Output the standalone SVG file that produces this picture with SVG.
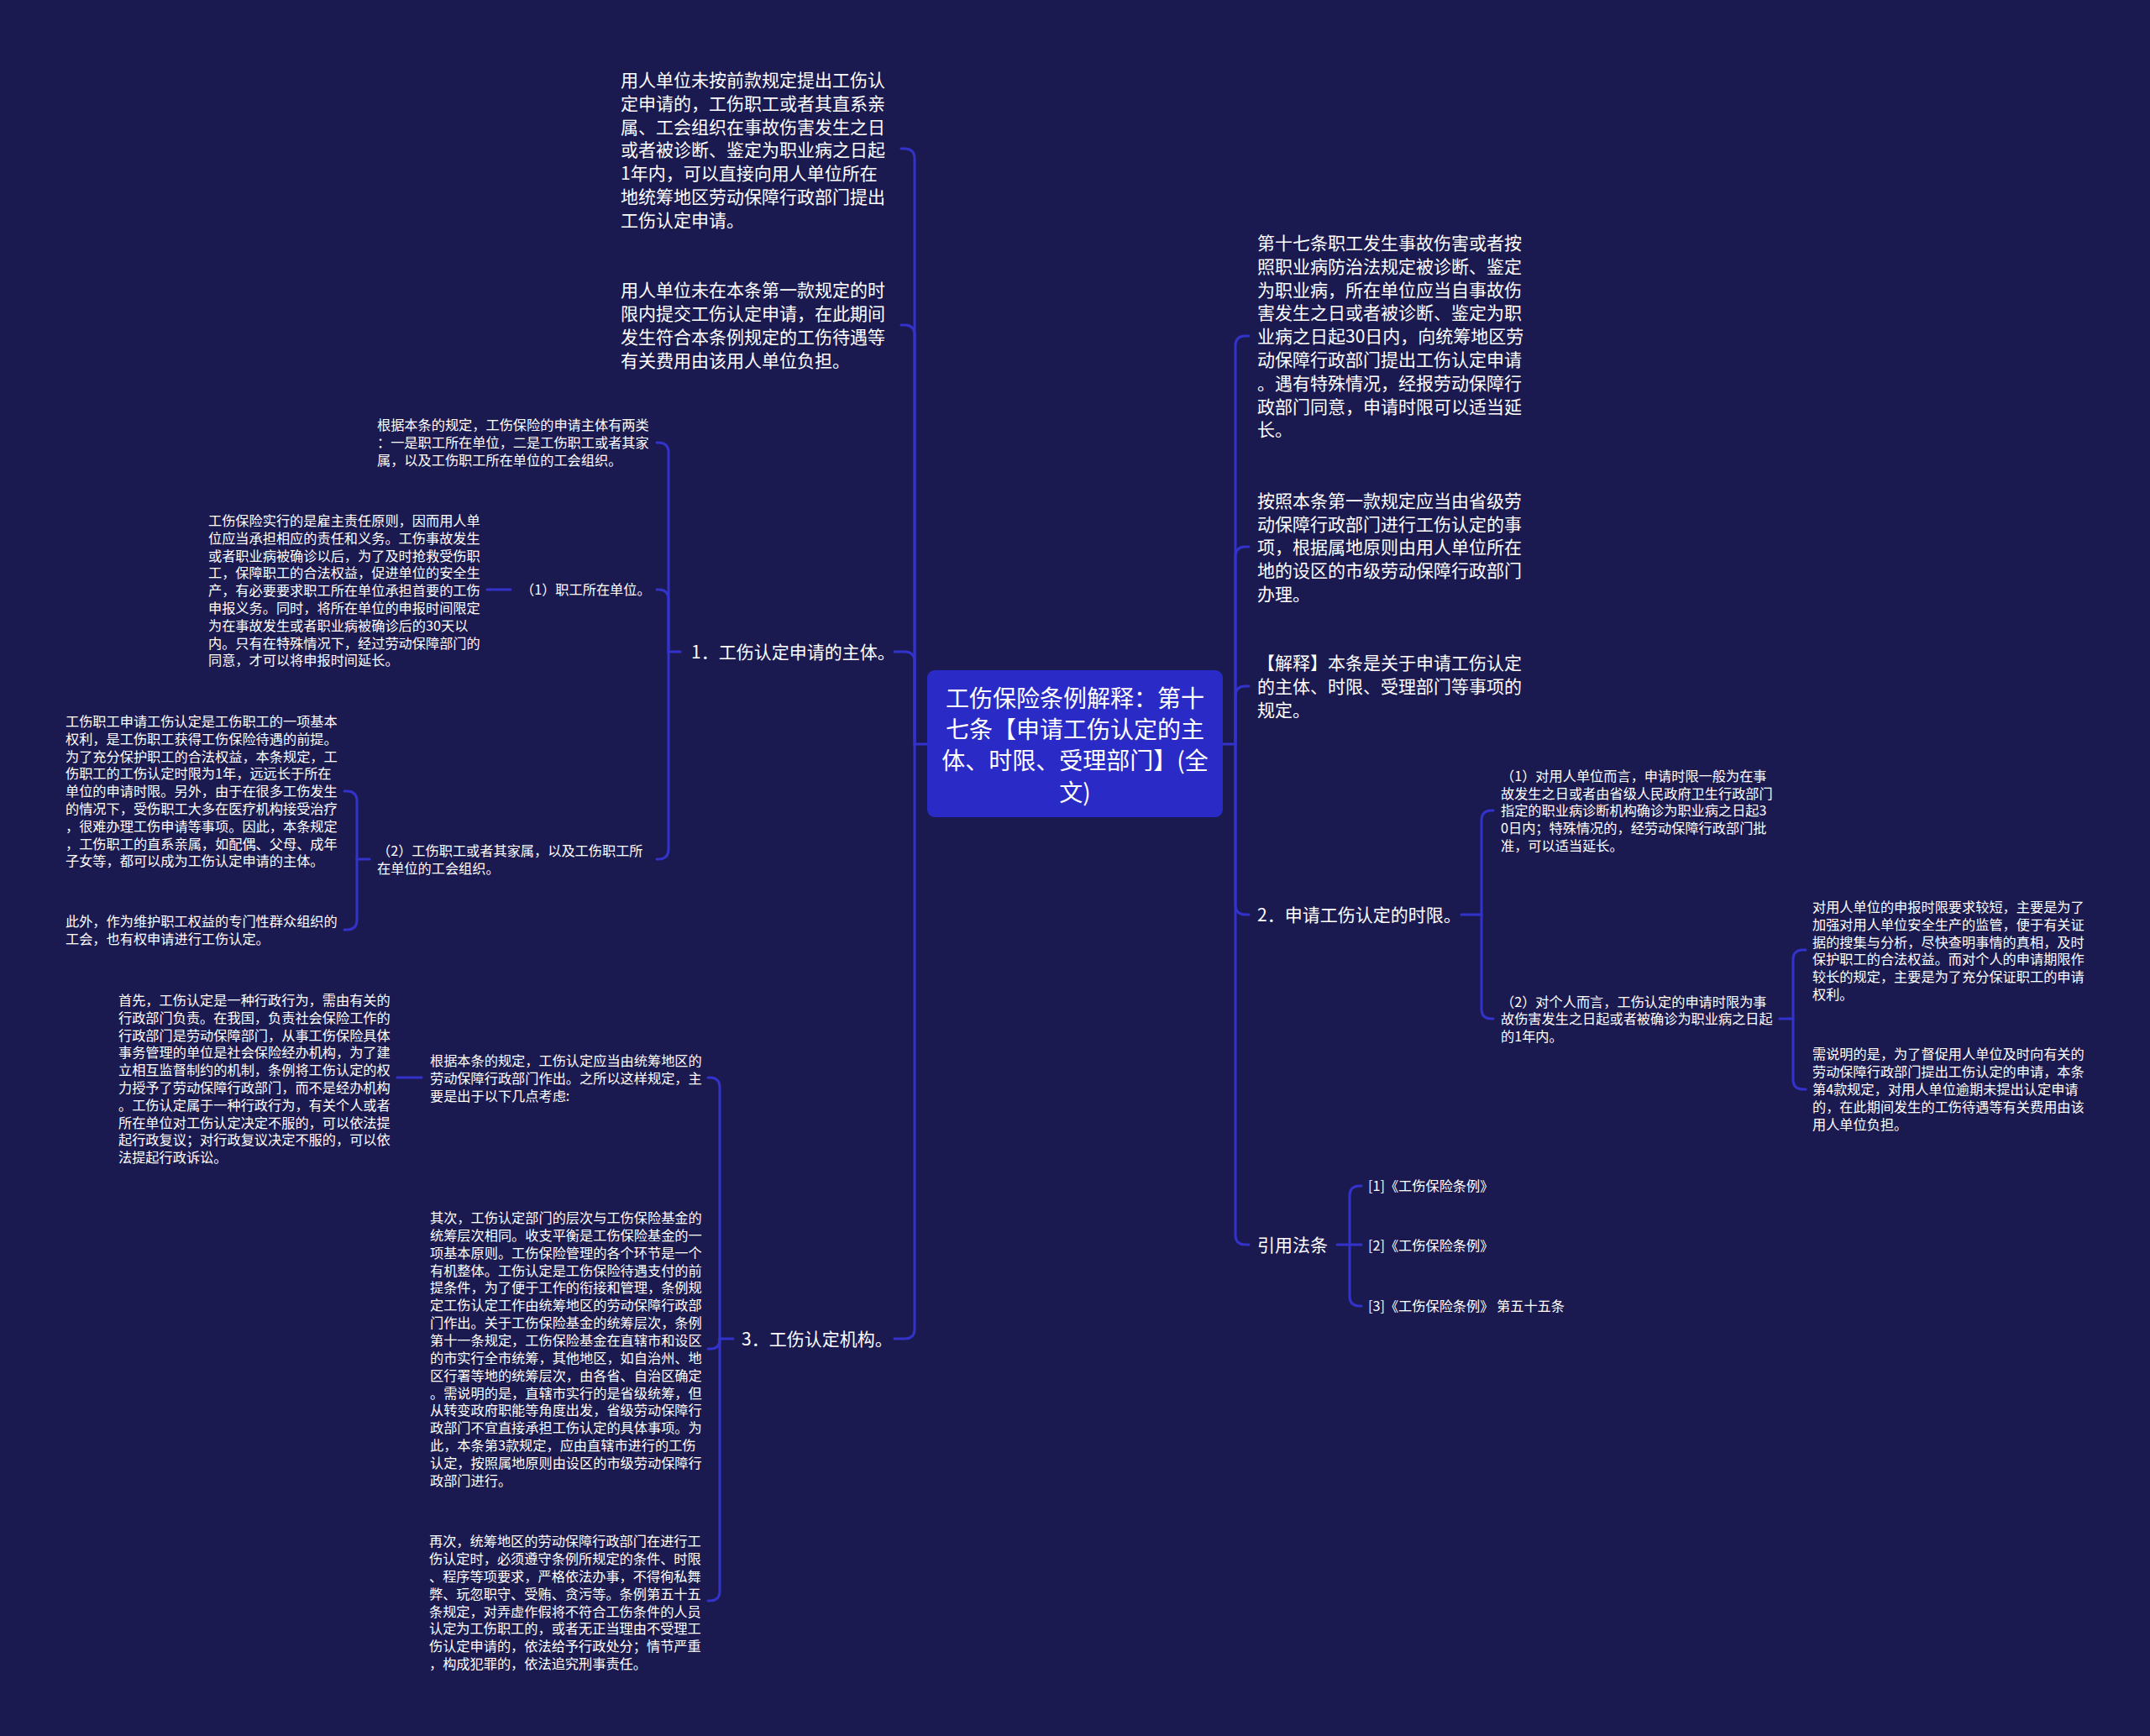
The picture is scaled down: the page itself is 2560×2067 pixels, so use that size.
<svg xmlns="http://www.w3.org/2000/svg" width="2560" height="2067" viewBox="0 0 2560 2067">
<style>
text{font-family:"Noto Sans CJK SC","Noto Sans",sans-serif;fill:#ffffff}
.t1{font-size:21px}
.t2{font-size:16.2px}
.tc{font-size:28px;text-anchor:middle}
.ln{fill:none;stroke:#3333cc;stroke-width:3;stroke-linecap:round;stroke-linejoin:round}
</style>
<rect x="0" y="0" width="2560" height="2067" fill="#1b1a50"/>

<g id="connectors">
<path class="ln" d="M1104 886H1089"/>
<path class="ln" d="M1089 886V189Q1089 177 1077 177H1073"/>
<path class="ln" d="M1089 886V399Q1089 387 1077 387H1073"/>
<path class="ln" d="M1089 886V788Q1089 776 1077 776H1065"/>
<path class="ln" d="M1089 886V1582Q1089 1594 1077 1594H1065"/>
<path class="ln" d="M810 776H796"/>
<path class="ln" d="M796 776V539Q796 527 784 527H782"/>
<path class="ln" d="M796 776V714Q796 702 784 702H782"/>
<path class="ln" d="M796 776V1011Q796 1023 784 1023H782"/>
<path class="ln" d="M608 702H580"/>
<path class="ln" d="M440 1023H425"/>
<path class="ln" d="M425 1023V954Q425 942 413 942H410"/>
<path class="ln" d="M425 1023V1095Q425 1107 413 1107H410"/>
<path class="ln" d="M873 1594H857"/>
<path class="ln" d="M857 1594V1295Q857 1283 845 1283H843"/>
<path class="ln" d="M857 1594V1595Q857 1606 846 1606H843"/>
<path class="ln" d="M857 1594V1894Q857 1906 845 1906H843"/>
<path class="ln" d="M502 1283H473"/>
<path class="ln" d="M1456 886H1471"/>
<path class="ln" d="M1471 886V412Q1471 400 1483 400H1487"/>
<path class="ln" d="M1471 886V663Q1471 651 1483 651H1487"/>
<path class="ln" d="M1471 886V829Q1471 817 1483 817H1487"/>
<path class="ln" d="M1471 886V1077Q1471 1089 1483 1089H1487"/>
<path class="ln" d="M1471 886V1470Q1471 1482 1483 1482H1487"/>
<path class="ln" d="M1740 1089H1764"/>
<path class="ln" d="M1764 1089V977Q1764 965 1776 965H1778"/>
<path class="ln" d="M1764 1089V1201Q1764 1213 1776 1213H1778"/>
<path class="ln" d="M2119 1213H2135"/>
<path class="ln" d="M2135 1213V1143Q2135 1131 2147 1131H2150"/>
<path class="ln" d="M2135 1213V1285Q2135 1297 2147 1297H2150"/>
<path class="ln" d="M1592 1482H1607"/>
<path class="ln" d="M1607 1482V1424Q1607 1412 1619 1412H1621"/>
<path class="ln" d="M1607 1482H1621"/>
<path class="ln" d="M1607 1482V1543Q1607 1555 1619 1555H1621"/>
</g>

<g id="center">
<rect x="1104" y="798" width="352" height="175" rx="9" fill="#2a2bc6"/>
<text class="tc"><tspan x="1280" y="842">工伤保险条例解释：第十</tspan><tspan x="1280" y="879">七条【申请工伤认定的主</tspan><tspan x="1280" y="916">体、时限、受理部门】(全</tspan><tspan x="1280" y="954">文)</tspan></text>
</g>

<g id="l1">
<text class="t1"><tspan x="739" y="103">用人单位未按前款规定提出工伤认</tspan><tspan x="739" y="131">定申请的，工伤职工或者其直系亲</tspan><tspan x="739" y="159">属、工会组织在事故伤害发生之日</tspan><tspan x="739" y="186">或者被诊断、鉴定为职业病之日起</tspan><tspan x="739" y="214">1年内，可以直接向用人单位所在</tspan><tspan x="739" y="242">地统筹地区劳动保障行政部门提出</tspan><tspan x="739" y="270">工伤认定申请。</tspan></text>
</g>

<g id="l2">
<text class="t1"><tspan x="739" y="353">用人单位未在本条第一款规定的时</tspan><tspan x="739" y="381">限内提交工伤认定申请，在此期间</tspan><tspan x="739" y="409">发生符合本条例规定的工伤待遇等</tspan><tspan x="739" y="437">有关费用由该用人单位负担。</tspan></text>
</g>

<g id="l3">
<text class="t1" x="823" y="784">1．工伤认定申请的主体。</text>
</g>

<g id="l3a">
<text class="t2"><tspan x="449" y="512">根据本条的规定，工伤保险的申请主体有两类</tspan><tspan x="449" y="533">：一是职工所在单位，二是工伤职工或者其家</tspan><tspan x="449" y="554">属，以及工伤职工所在单位的工会组织。</tspan></text>
</g>

<g id="l3b">
<text class="t2" x="620" y="708">（1）职工所在单位。</text>
</g>

<g id="l3b1">
<text class="t2"><tspan x="248" y="626">工伤保险实行的是雇主责任原则，因而用人单</tspan><tspan x="248" y="647">位应当承担相应的责任和义务。工伤事故发生</tspan><tspan x="248" y="668">或者职业病被确诊以后，为了及时抢救受伤职</tspan><tspan x="248" y="688">工，保障职工的合法权益，促进单位的安全生</tspan><tspan x="248" y="709">产，有必要要求职工所在单位承担首要的工伤</tspan><tspan x="248" y="730">申报义务。同时，将所在单位的申报时间限定</tspan><tspan x="248" y="751">为在事故发生或者职业病被确诊后的30天以</tspan><tspan x="248" y="772">内。只有在特殊情况下，经过劳动保障部门的</tspan><tspan x="248" y="792">同意，才可以将申报时间延长。</tspan></text>
</g>

<g id="l3c">
<text class="t2"><tspan x="449" y="1019">（2）工伤职工或者其家属，以及工伤职工所</tspan><tspan x="449" y="1040">在单位的工会组织。</tspan></text>
</g>

<g id="l3c1">
<text class="t2"><tspan x="78" y="865">工伤职工申请工伤认定是工伤职工的一项基本</tspan><tspan x="78" y="886">权利，是工伤职工获得工伤保险待遇的前提。</tspan><tspan x="78" y="907">为了充分保护职工的合法权益，本条规定，工</tspan><tspan x="78" y="927">伤职工的工伤认定时限为1年，远远长于所在</tspan><tspan x="78" y="948">单位的申请时限。另外，由于在很多工伤发生</tspan><tspan x="78" y="969">的情况下，受伤职工大多在医疗机构接受治疗</tspan><tspan x="78" y="990">，很难办理工伤申请等事项。因此，本条规定</tspan><tspan x="78" y="1011">，工伤职工的直系亲属，如配偶、父母、成年</tspan><tspan x="78" y="1031">子女等，都可以成为工伤认定申请的主体。</tspan></text>
</g>

<g id="l3c2">
<text class="t2"><tspan x="78" y="1103">此外，作为维护职工权益的专门性群众组织的</tspan><tspan x="78" y="1124">工会，也有权申请进行工伤认定。</tspan></text>
</g>

<g id="l4">
<text class="t1" x="883" y="1602">3．工伤认定机构。</text>
</g>

<g id="l4a">
<text class="t2"><tspan x="512" y="1269">根据本条的规定，工伤认定应当由统筹地区的</tspan><tspan x="512" y="1290">劳动保障行政部门作出。之所以这样规定，主</tspan><tspan x="512" y="1311">要是出于以下几点考虑:</tspan></text>
</g>

<g id="l4a1">
<text class="t2"><tspan x="141" y="1197">首先，工伤认定是一种行政行为，需由有关的</tspan><tspan x="141" y="1218">行政部门负责。在我国，负责社会保险工作的</tspan><tspan x="141" y="1239">行政部门是劳动保障部门，从事工伤保险具体</tspan><tspan x="141" y="1259">事务管理的单位是社会保险经办机构，为了建</tspan><tspan x="141" y="1280">立相互监督制约的机制，条例将工伤认定的权</tspan><tspan x="141" y="1301">力授予了劳动保障行政部门，而不是经办机构</tspan><tspan x="141" y="1322">。工伤认定属于一种行政行为，有关个人或者</tspan><tspan x="141" y="1343">所在单位对工伤认定决定不服的，可以依法提</tspan><tspan x="141" y="1363">起行政复议；对行政复议决定不服的，可以依</tspan><tspan x="141" y="1384">法提起行政诉讼。</tspan></text>
</g>

<g id="l4b">
<text class="t2"><tspan x="512" y="1456">其次，工伤认定部门的层次与工伤保险基金的</tspan><tspan x="512" y="1477">统筹层次相同。收支平衡是工伤保险基金的一</tspan><tspan x="512" y="1498">项基本原则。工伤保险管理的各个环节是一个</tspan><tspan x="512" y="1519">有机整体。工伤认定是工伤保险待遇支付的前</tspan><tspan x="512" y="1539">提条件，为了便于工作的衔接和管理，条例规</tspan><tspan x="512" y="1560">定工伤认定工作由统筹地区的劳动保障行政部</tspan><tspan x="512" y="1581">门作出。关于工伤保险基金的统筹层次，条例</tspan><tspan x="512" y="1602">第十一条规定，工伤保险基金在直辖市和设区</tspan><tspan x="512" y="1623">的市实行全市统筹，其他地区，如自治州、地</tspan><tspan x="512" y="1644">区行署等地的统筹层次，由各省、自治区确定</tspan><tspan x="512" y="1665">。需说明的是，直辖市实行的是省级统筹，但</tspan><tspan x="512" y="1685">从转变政府职能等角度出发，省级劳动保障行</tspan><tspan x="512" y="1706">政部门不宜直接承担工伤认定的具体事项。为</tspan><tspan x="512" y="1727">此，本条第3款规定，应由直辖市进行的工伤</tspan><tspan x="512" y="1748">认定，按照属地原则由设区的市级劳动保障行</tspan><tspan x="512" y="1769">政部门进行。</tspan></text>
</g>

<g id="l4c">
<text class="t2"><tspan x="511" y="1841">再次，统筹地区的劳动保障行政部门在进行工</tspan><tspan x="511" y="1862">伤认定时，必须遵守条例所规定的条件、时限</tspan><tspan x="511" y="1883">、程序等项要求，严格依法办事，不得徇私舞</tspan><tspan x="511" y="1904">弊、玩忽职守、受贿、贪污等。条例第五十五</tspan><tspan x="511" y="1925">条规定，对弄虚作假将不符合工伤条件的人员</tspan><tspan x="511" y="1945">认定为工伤职工的，或者无正当理由不受理工</tspan><tspan x="511" y="1966">伤认定申请的，依法给予行政处分；情节严重</tspan><tspan x="511" y="1987">，构成犯罪的，依法追究刑事责任。</tspan></text>
</g>

<g id="r1">
<text class="t1"><tspan x="1497" y="297">第十七条职工发生事故伤害或者按</tspan><tspan x="1497" y="325">照职业病防治法规定被诊断、鉴定</tspan><tspan x="1497" y="353">为职业病，所在单位应当自事故伤</tspan><tspan x="1497" y="380">害发生之日或者被诊断、鉴定为职</tspan><tspan x="1497" y="408">业病之日起30日内，向统筹地区劳</tspan><tspan x="1497" y="436">动保障行政部门提出工伤认定申请</tspan><tspan x="1497" y="464">。遇有特殊情况，经报劳动保障行</tspan><tspan x="1497" y="492">政部门同意，申请时限可以适当延</tspan><tspan x="1497" y="519">长。</tspan></text>
</g>

<g id="r2">
<text class="t1"><tspan x="1497" y="604">按照本条第一款规定应当由省级劳</tspan><tspan x="1497" y="632">动保障行政部门进行工伤认定的事</tspan><tspan x="1497" y="659">项，根据属地原则由用人单位所在</tspan><tspan x="1497" y="687">地的设区的市级劳动保障行政部门</tspan><tspan x="1497" y="715">办理。</tspan></text>
</g>

<g id="r3">
<text class="t1"><tspan x="1497" y="797">【解释】本条是关于申请工伤认定</tspan><tspan x="1497" y="825">的主体、时限、受理部门等事项的</tspan><tspan x="1497" y="853">规定。</tspan></text>
</g>

<g id="r4">
<text class="t1" x="1497" y="1097">2．申请工伤认定的时限。</text>
</g>

<g id="r4a">
<text class="t2"><tspan x="1787" y="930">（1）对用人单位而言，申请时限一般为在事</tspan><tspan x="1787" y="951">故发生之日或者由省级人民政府卫生行政部门</tspan><tspan x="1787" y="971">指定的职业病诊断机构确诊为职业病之日起3</tspan><tspan x="1787" y="992">0日内；特殊情况的，经劳动保障行政部门批</tspan><tspan x="1787" y="1013">准，可以适当延长。</tspan></text>
</g>

<g id="r4b">
<text class="t2"><tspan x="1787" y="1199">（2）对个人而言，工伤认定的申请时限为事</tspan><tspan x="1787" y="1219">故伤害发生之日起或者被确诊为职业病之日起</tspan><tspan x="1787" y="1240">的1年内。</tspan></text>
</g>

<g id="r4b1">
<text class="t2"><tspan x="2158" y="1086">对用人单位的申报时限要求较短，主要是为了</tspan><tspan x="2158" y="1107">加强对用人单位安全生产的监管，便于有关证</tspan><tspan x="2158" y="1128">据的搜集与分析，尽快查明事情的真相，及时</tspan><tspan x="2158" y="1148">保护职工的合法权益。而对个人的申请期限作</tspan><tspan x="2158" y="1169">较长的规定，主要是为了充分保证职工的申请</tspan><tspan x="2158" y="1190">权利。</tspan></text>
</g>

<g id="r4b2">
<text class="t2"><tspan x="2158" y="1261">需说明的是，为了督促用人单位及时向有关的</tspan><tspan x="2158" y="1282">劳动保障行政部门提出工伤认定的申请，本条</tspan><tspan x="2158" y="1303">第4款规定，对用人单位逾期未提出认定申请</tspan><tspan x="2158" y="1324">的，在此期间发生的工伤待遇等有关费用由该</tspan><tspan x="2158" y="1345">用人单位负担。</tspan></text>
</g>

<g id="r5">
<text class="t1" x="1497" y="1490">引用法条</text>
</g>
<g id="r5a"><text class="t2" x="1629" y="1418">[1]《工伤保险条例》</text></g>
<g id="r5b"><text class="t2" x="1629" y="1489">[2]《工伤保险条例》</text></g>
<g id="r5c"><text class="t2" x="1629" y="1561">[3]《工伤保险条例》 第五十五条</text></g>
</svg>
